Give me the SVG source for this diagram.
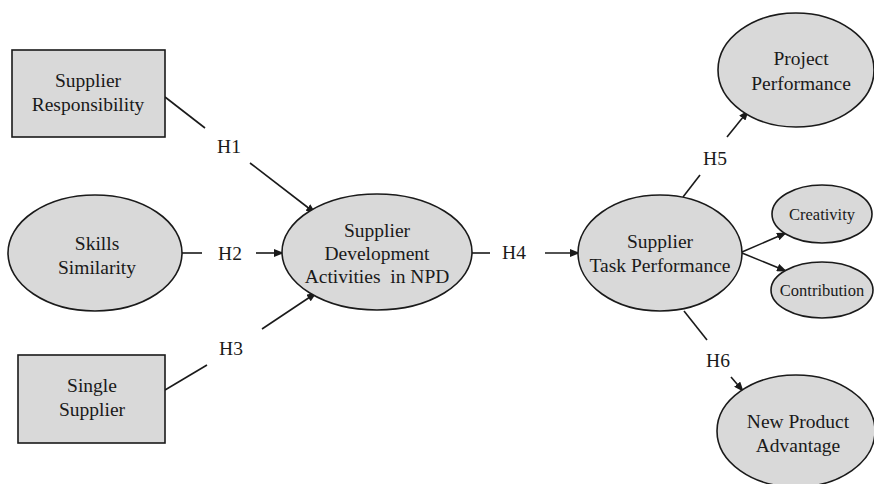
<svg xmlns="http://www.w3.org/2000/svg" width="874" height="484" viewBox="0 0 874 484">
<style>
.n{fill:#d9d9d9;stroke:#1a1a1a;stroke-width:1.6}
.t{font-family:"Liberation Serif","Times New Roman",serif;font-size:19.5px;fill:#1a1a1a;text-anchor:middle}
.s{font-size:16.5px}
.c{stroke:#1a1a1a;stroke-width:1.6;fill:none}
.a{marker-end:url(#ah)}
</style>
<defs>
<marker id="ah" markerWidth="10" markerHeight="8" refX="9" refY="4" orient="auto" markerUnits="userSpaceOnUse">
<path d="M0,0 L10,4 L0,8 Z" fill="#1a1a1a"/>
</marker>
</defs>
<rect width="874" height="484" fill="#fff"/>
<g id="connectors">
<line class="c" x1="165" y1="97" x2="205" y2="128"/>
<line class="c a" x1="250" y1="163" x2="315" y2="213"/>
<text class="t" x="229" y="153">H1</text>
<line class="c" x1="182" y1="253" x2="202" y2="253"/>
<line class="c a" x1="256" y1="253" x2="283" y2="253"/>
<text class="t" x="230" y="260">H2</text>
<line class="c" x1="165" y1="390" x2="207" y2="365"/>
<line class="c a" x1="262" y1="329" x2="316" y2="293"/>
<text class="t" x="231" y="355">H3</text>
<line class="c" x1="472" y1="253" x2="490" y2="253"/>
<line class="c a" x1="545" y1="253" x2="579" y2="253"/>
<text class="t" x="514" y="259">H4</text>
<line class="c" x1="683" y1="197" x2="700" y2="175"/>
<line class="c a" x1="727" y1="137" x2="748" y2="111"/>
<text class="t" x="715" y="165">H5</text>
<line class="c a" x1="742" y1="252" x2="786" y2="233"/>
<line class="c a" x1="742" y1="253" x2="786" y2="271"/>
<line class="c" x1="684" y1="311" x2="707" y2="340"/>
<line class="c a" x1="731" y1="377" x2="743" y2="391"/>
<text class="t" x="718" y="367">H6</text>
</g>
<g id="supplier-responsibility">
<rect class="n" x="12" y="50" width="153" height="87"/>
<text class="t" x="88" y="87">Supplier</text>
<text class="t" x="88" y="111">Responsibility</text>
</g>
<g id="skills-similarity">
<ellipse class="n" cx="95" cy="253" rx="87" ry="58"/>
<text class="t" x="97" y="250">Skills</text>
<text class="t" x="97" y="274">Similarity</text>
</g>
<g id="single-supplier">
<rect class="n" x="18" y="355" width="147" height="88"/>
<text class="t" x="92" y="392">Single</text>
<text class="t" x="92" y="416">Supplier</text>
</g>
<g id="supplier-development">
<ellipse class="n" cx="377" cy="252" rx="95" ry="58"/>
<text class="t" x="377" y="237">Supplier</text>
<text class="t" x="377" y="260">Development</text>
<text class="t" x="377" y="283" xml:space="preserve">Activities  in NPD</text>
</g>
<g id="supplier-task-performance">
<ellipse class="n" cx="660" cy="253" rx="82" ry="58"/>
<text class="t" x="660" y="248">Supplier</text>
<text class="t" x="660" y="272">Task Performance</text>
</g>
<g id="project-performance">
<ellipse class="n" cx="796" cy="70" rx="78" ry="57"/>
<text class="t" x="801" y="65">Project</text>
<text class="t" x="801" y="90">Performance</text>
</g>
<g id="creativity">
<ellipse class="n" cx="822" cy="214" rx="50" ry="29"/>
<text class="t s" x="822" y="220">Creativity</text>
</g>
<g id="contribution">
<ellipse class="n" cx="822" cy="290" rx="51" ry="28"/>
<text class="t s" x="822" y="296">Contribution</text>
</g>
<g id="new-product-advantage">
<ellipse class="n" cx="796" cy="431" rx="79" ry="56"/>
<text class="t" x="798" y="428">New Product</text>
<text class="t" x="798" y="452">Advantage</text>
</g>
</svg>
